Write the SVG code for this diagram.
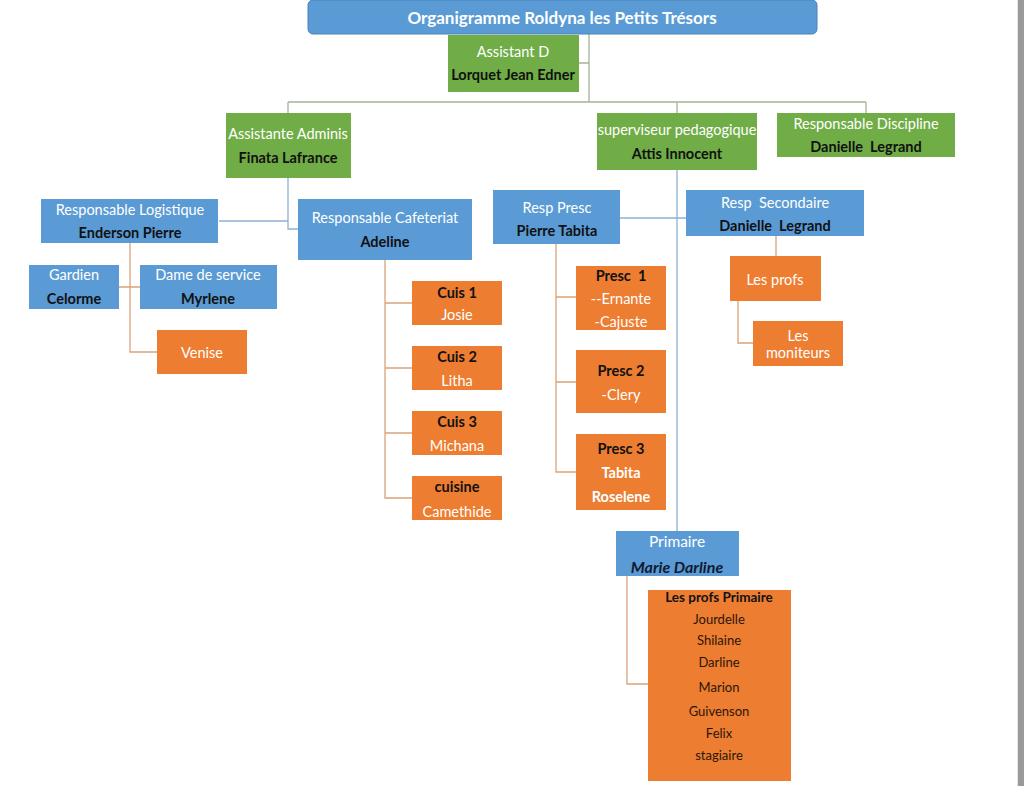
<svg xmlns="http://www.w3.org/2000/svg" width="1024" height="786" viewBox="0 0 1024 786">
<style>
.t{font-family:Lato,"Open Sans","Liberation Sans",sans-serif;font-size:14.5px;text-anchor:middle;dominant-baseline:central;white-space:pre}
.w{fill:#ffffff}
.d{fill:#111111;font-weight:bold}
.b{font-weight:bold}
.p{font-size:13px;fill:#2a1608}
.blue{fill:#5b9bd5}
.green{fill:#70ad47}
.orange{fill:#ed7d31}
.lg{stroke:#a3b596;stroke-width:1.3;fill:none}
.lb{stroke:#8fb0d6;stroke-width:1.3;fill:none}
.lo{stroke:#d9a47a;stroke-width:1.3;fill:none}
</style>
<rect x="0" y="0" width="1024" height="786" fill="#ffffff"/>
<rect x="1017" y="0" width="1" height="786" fill="#e6e6e6"/>
<rect x="1018" y="0" width="6" height="786" fill="#9a9a9a"/>
<g id="connectors">
<path class="lg" d="M589 34V102M589 63H579M288 102H866M288 102V113M677 102V113M866 102V113"/>
<path class="lb" d="M288 178V229H298M219 221H288"/>
<path class="lb" d="M677 170V531M620 218H687"/>
<path class="lo" d="M130 243V352H157M119 287H140"/>
<path class="lo" d="M385 260V498H412M385 303H412M385 368H412M385 433H412"/>
<path class="lo" d="M556 244V472H576M556 297H576M556 382H576"/>
<path class="lo" d="M776 236V256M738 301V343H753"/>
<path class="lo" d="M627 576V684H648"/>
</g>
<g id="title">
<rect x="308" y="0" width="509" height="34" rx="5" fill="#5b9bd5" stroke="#4a82b8" stroke-width="1"/>
<text class="t w b" x="562" y="17" style="font-size:17px">Organigramme Roldyna les Petits Trésors</text>
</g>
<g id="assistant-d">
<rect class="green" x="448" y="35" width="131" height="57"/>
<text class="t w" x="513" y="51">Assistant D</text>
<text class="t d" x="513" y="74">Lorquet Jean Edner</text>
</g>
<g id="assistante-adminis">
<rect class="green" x="226" y="113" width="125" height="65"/>
<text class="t w" x="288" y="133">Assistante Adminis</text>
<text class="t d" x="288" y="157">Finata Lafrance</text>
</g>
<g id="superviseur">
<rect class="green" x="597" y="113" width="160" height="57"/>
<text class="t w" x="677" y="129">superviseur pedagogique</text>
<text class="t d" x="677" y="153">Attis Innocent</text>
</g>
<g id="resp-discipline">
<rect class="green" x="777" y="113" width="178" height="44"/>
<text class="t w" x="866" y="123">Responsable Discipline</text>
<text class="t d" x="866" y="146">Danielle  Legrand</text>
</g>
<g id="resp-logistique">
<rect class="blue" x="41" y="199" width="177" height="44"/>
<text class="t w" x="130" y="209">Responsable Logistique</text>
<text class="t d" x="130" y="232">Enderson Pierre</text>
</g>
<g id="resp-cafeteriat">
<rect class="blue" x="298" y="199" width="174" height="61"/>
<text class="t w" x="385" y="217">Responsable Cafeteriat</text>
<text class="t d" x="385" y="241">Adeline</text>
</g>
<g id="gardien">
<rect class="blue" x="29" y="265" width="90" height="44"/>
<text class="t w" x="74" y="274">Gardien</text>
<text class="t d" x="74" y="298">Celorme</text>
</g>
<g id="dame-service">
<rect class="blue" x="140" y="265" width="137" height="44"/>
<text class="t w" x="208" y="274">Dame de service</text>
<text class="t d" x="208" y="298">Myrlene</text>
</g>
<g id="venise">
<rect class="orange" x="157" y="330" width="90" height="44"/>
<text class="t w" x="202" y="352">Venise</text>
</g>
<g id="cuis1">
<rect class="orange" x="412" y="281" width="90" height="44"/>
<text class="t d" x="457" y="292">Cuis 1</text>
<text class="t w" x="457" y="314">Josie</text>
</g>
<g id="cuis2">
<rect class="orange" x="412" y="346" width="90" height="44"/>
<text class="t d" x="457" y="356">Cuis 2</text>
<text class="t w" x="457" y="380">Litha</text>
</g>
<g id="cuis3">
<rect class="orange" x="412" y="411" width="90" height="44"/>
<text class="t d" x="457" y="421">Cuis 3</text>
<text class="t w" x="457" y="445">Michana</text>
</g>
<g id="cuisine">
<rect class="orange" x="412" y="476" width="90" height="44"/>
<text class="t d" x="457" y="486">cuisine</text>
<text class="t w" x="457" y="511">Camethide</text>
</g>
<g id="resp-presc">
<rect class="blue" x="493" y="190" width="127" height="54"/>
<text class="t w" x="557" y="207">Resp Presc</text>
<text class="t d" x="557" y="230">Pierre Tabita</text>
</g>
<g id="presc1">
<rect class="orange" x="576" y="266" width="90" height="64"/>
<text class="t d" x="621" y="275">Presc  1</text>
<text class="t w" x="621" y="298">--Ernante</text>
<text class="t w" x="621" y="321">-Cajuste</text>
</g>
<g id="presc2">
<rect class="orange" x="576" y="350" width="90" height="63"/>
<text class="t d" x="621" y="370">Presc 2</text>
<text class="t w" x="621" y="394">-Clery</text>
</g>
<g id="presc3">
<rect class="orange" x="576" y="434" width="90" height="76"/>
<text class="t d" x="621" y="448">Presc 3</text>
<text class="t w b" x="621" y="472">Tabita</text>
<text class="t w b" x="621" y="496">Roselene</text>
</g>
<g id="resp-secondaire">
<rect class="blue" x="686" y="190" width="178" height="46"/>
<text class="t w" x="775" y="202">Resp  Secondaire</text>
<text class="t d" x="775" y="225">Danielle  Legrand</text>
</g>
<g id="les-profs">
<rect class="orange" x="730" y="256" width="91" height="45"/>
<text class="t w" x="775" y="279">Les profs</text>
</g>
<g id="les-moniteurs">
<rect class="orange" x="753" y="321" width="90" height="45"/>
<text class="t w" x="798" y="335">Les</text>
<text class="t w" x="798" y="352">moniteurs</text>
</g>
<g id="primaire">
<rect class="blue" x="616" y="531" width="123" height="45"/>
<text class="t w" x="677" y="541" style="font-size:15.5px">Primaire</text>
<text class="t" x="677" y="566" style="font-size:16px;font-weight:bold;font-style:italic;fill:#101a33">Marie Darline</text>
</g>
<g id="profs-primaire">
<rect class="orange" x="648" y="590" width="143" height="191"/>
<text class="t d" x="719" y="597" style="font-size:13.5px">Les profs Primaire</text>
<text class="t p" x="719" y="619">Jourdelle</text>
<text class="t p" x="719" y="640">Shilaine</text>
<text class="t p" x="719" y="662">Darline</text>
<text class="t p" x="719" y="687">Marion</text>
<text class="t p" x="719" y="711">Guivenson</text>
<text class="t p" x="719" y="733">Felix</text>
<text class="t p" x="719" y="755">stagiaire</text>
</g>
</svg>
